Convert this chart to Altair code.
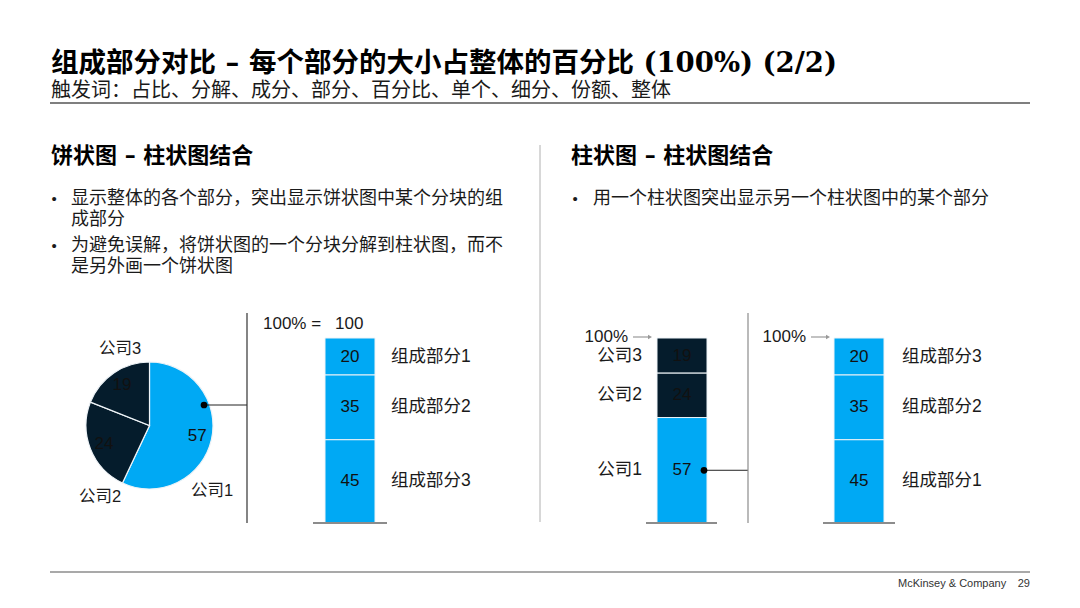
import altair as alt
import pandas as pd

# ---------------- data ----------------
pie_labels = ["公司1", "公司2", "公司3"]
pie_values = [57, 24, 19]

left_bar_labels = ["组成部分1", "组成部分2", "组成部分3"]   # top -> bottom
left_bar_values = [20, 35, 45]

mid_bar_labels = ["公司3", "公司2", "公司1"]               # top -> bottom
mid_bar_values = [19, 24, 57]

right_bar_labels = ["组成部分3", "组成部分2", "组成部分1"]  # top -> bottom
right_bar_values = [20, 35, 45]

title_text = "组成部分对比 – 每个部分的大小占整体的百分比 (100%) (2/2)"
subtitle_text = "触发词：占比、分解、成分、部分、百分比、单个、细分、份额、整体"
left_heading = "饼状图 – 柱状图结合"
right_heading = "柱状图 – 柱状图结合"
left_bullets = [["显示整体的各个部分，突出显示饼状图中某个分块的组", "成部分"],
                ["为避免误解，将饼状图的一个分块分解到柱状图，而不", "是另外画一个饼状图"]]
right_bullets = [["用一个柱状图突出显示另一个柱状图中的某个部分"]]
total_label = "100% ="
total_value = "100"
pct_label = "100%"
footer_text = "McKinsey & Company"
page_no = "29"

# ---------------- styles ----------------
BLUE = "#00A9F4"
DARK = "#051C2C"
GRAY = "#8c8c8c"
SANS = "Liberation Sans, Noto Sans CJK SC"
TITLE_FONT = "DejaVu Serif, Noto Sans CJK SC"

W, H = 1064, 592
OFF = 8


def px(x):
    return x - OFF


def py(y):
    return y - OFF


# y scale: 0 -> ref pixel 523, 100 -> ref pixel 338
ppu = 1.85
y0px = py(523)
yscale = alt.Scale(domain=[(y0px - H) / ppu, y0px / ppu], range=[H, 0], nice=False, zero=False)

all_labels = pie_labels + ["组成部分1", "组成部分2", "组成部分3"]
cscale = alt.Scale(domain=all_labels, range=[BLUE, DARK, DARK, BLUE, BLUE, BLUE])
color_enc = alt.Color("label:N", scale=cscale, legend=None)

dummy = pd.DataFrame({"a": [0]})


def txt(s, x, y, size, weight="normal", align="left", font=SANS, color="#1a1a1a"):
    return alt.Chart(pd.DataFrame({"t": [s]})).mark_text(
        align=align, baseline="middle", fontSize=size, fontWeight=weight, font=font, color=color
    ).encode(x=alt.value(px(x)), y=alt.value(py(y)), text="t:N")


def rule(x1, y1, x2, y2, color, width):
    return alt.Chart(dummy).mark_rule(color=color, strokeWidth=width).encode(
        x=alt.value(px(x1)), x2=alt.value(px(x2)), y=alt.value(py(y1)), y2=alt.value(py(y2))
    )


layers = []

# ---------------- header ----------------
layers.append(txt(title_text, 51, 64, 27.5, weight="bold", font=TITLE_FONT, color="#000000"))
layers.append(txt(subtitle_text, 51, 91, 20, color="#1a1a1a"))
layers.append(rule(50, 103, 1030, 103, "#7f7f7f", 2))

layers.append(txt(left_heading, 51, 156, 22, weight="bold", font=TITLE_FONT, color="#000000"))
layers.append(txt(right_heading, 571, 156, 22, weight="bold", font=TITLE_FONT, color="#000000"))
layers.append(rule(540, 145, 540, 522, "#b0b0b0", 1))

line_y = {0: [199, 220], 1: [246, 267]}
for i, bl in enumerate(left_bullets):
    layers.append(txt("•", 54, line_y[i][0], 15, align="center", color="#1a1a1a"))
    for j, ln in enumerate(bl):
        layers.append(txt(ln, 71, line_y[i][j], 18, color="#1a1a1a"))
for i, bl in enumerate(right_bullets):
    layers.append(txt("•", 575, 199, 15, align="center", color="#1a1a1a"))
    layers.append(txt(bl[0], 593, 199, 18, color="#1a1a1a"))

# ---------------- pie ----------------
pie_df = pd.DataFrame({"label": pie_labels, "value": pie_values, "order": list(range(len(pie_labels)))})
cx, cy = px(149.5), py(425.5)
pie = alt.Chart(pie_df).mark_arc(outerRadius=63.5, stroke="#eef3f7", strokeWidth=1.2).encode(
    theta=alt.Theta("value:Q", stack=True),
    order=alt.Order("order:Q"),
    color=color_enc,
    x=alt.value(cx), y=alt.value(cy),
)
pie_txt = alt.Chart(pie_df).mark_text(radius=49, fontSize=17, font=SANS, color="#111111").encode(
    theta=alt.Theta("value:Q", stack=True),
    order=alt.Order("order:Q"),
    detail="label:N",
    text="value:Q",
    x=alt.value(cx), y=alt.value(cy),
)
layers += [pie, pie_txt]
layers.append(txt("公司3", 120, 349, 16.5, align="center"))
layers.append(txt("公司2", 100, 497, 16.5, align="center"))
layers.append(txt("公司1", 212, 491, 16.5, align="center"))

# connector from pie
layers.append(rule(204, 405, 247, 405, "#222222", 1))
layers.append(alt.Chart(dummy).mark_circle(size=45, color="#000000", opacity=1).encode(
    x=alt.value(px(204)), y=alt.value(py(405))))
layers.append(rule(247, 313, 247, 523, "#333333", 1.2))

# ---------------- bars ----------------
rows = []
for name, labs, vals in [("A", left_bar_labels, left_bar_values),
                         ("B", mid_bar_labels, mid_bar_values),
                         ("C", right_bar_labels, right_bar_values)]:
    for r, (l, v) in enumerate(zip(labs, vals)):
        rows.append({"bar": name, "label": l, "value": v, "rank": r})
bars_df = pd.DataFrame(rows)


def stacked(name):
    return alt.Chart(bars_df).transform_filter(alt.datum.bar == name).transform_stack(
        stack="value", groupby=["bar"], as_=["y0", "y1"],
        sort=[alt.SortField("rank", order="descending")]
    ).transform_calculate(mid="(datum.y0 + datum.y1) / 2")


def bar_layers(name, x1, x2, label_x, label_align):
    base = stacked(name)
    rect = base.mark_rect(stroke="#eef3f7", strokeWidth=1).encode(
        x=alt.value(px(x1)), x2=alt.value(px(x2)),
        y=alt.Y("y0:Q", scale=yscale, axis=None), y2="y1:Q",
        color=color_enc,
    )
    vals = base.mark_text(fontSize=17, font=SANS, color="#111111", baseline="middle").encode(
        x=alt.value(px((x1 + x2) / 2)),
        y=alt.Y("mid:Q", scale=yscale, axis=None),
        text="value:Q",
    )
    labs = base.mark_text(fontSize=17.5, font=SANS, color="#1a1a1a", baseline="middle",
                          align=label_align).encode(
        x=alt.value(px(label_x)),
        y=alt.Y("mid:Q", scale=yscale, axis=None),
        text="label:N",
    )
    return [rect, vals, labs]


def baseline(x1, x2):
    return alt.Chart(dummy).mark_rule(color=GRAY, strokeWidth=2).encode(
        x=alt.value(px(x1)), x2=alt.value(px(x2)), y=alt.Y("a:Q", scale=yscale, axis=None)
    )


layers += bar_layers("A", 325, 375, 391, "left")
layers += bar_layers("B", 657, 707, 642, "right")
layers += bar_layers("C", 834, 884, 902, "left")

layers.append(baseline(313, 387))
layers.append(baseline(646, 717))
layers.append(baseline(823, 895))

layers.append(txt(total_label, 263, 324, 17))
layers.append(txt(total_value, 335, 324, 17))


# 100% arrows
def arrow(x_text_right, x1, x2):
    line = alt.Chart(dummy).mark_rule(color="#999999", strokeWidth=1.2).encode(
        x=alt.value(px(x1)), x2=alt.value(px(x2 - 3)), y=alt.value(py(337)))
    head = alt.Chart(dummy).mark_point(shape="triangle-right", filled=True, size=22,
                                       color="#999999", opacity=1).encode(
        x=alt.value(px(x2 - 2)), y=alt.value(py(337)))
    label = txt(pct_label, x_text_right, 337, 17, align="right")
    return [line, head, label]


layers += arrow(628, 633, 652)
layers += arrow(806, 811, 830)

# connector from bar B
conn = stacked("B").transform_filter(alt.datum.label == "公司1")
layers.append(conn.mark_rule(color="#222222", strokeWidth=1).encode(
    x=alt.value(px(704)), x2=alt.value(px(748)), y=alt.Y("mid:Q", scale=yscale, axis=None)))
layers.append(conn.mark_circle(size=45, color="#000000", opacity=1).encode(
    x=alt.value(px(704)), y=alt.Y("mid:Q", scale=yscale, axis=None)))
layers.append(rule(748, 313, 748, 523, GRAY, 1.2))

# ---------------- footer ----------------
layers.append(rule(50, 572, 1030, 572, GRAY, 1.5))
layers.append(txt(footer_text, 898, 584, 11, color="#333333"))
layers.append(txt(page_no, 1030, 584, 11, align="right", color="#333333"))

chart = alt.layer(*layers).properties(
    width=W, height=H, padding=0, autosize=alt.AutoSizeParams(type="none")
).configure(background="white", view=alt.ViewConfig(strokeWidth=0, stroke="transparent"))

chart.save("out.html", embed_options={"renderer": "svg", "actions": False})
